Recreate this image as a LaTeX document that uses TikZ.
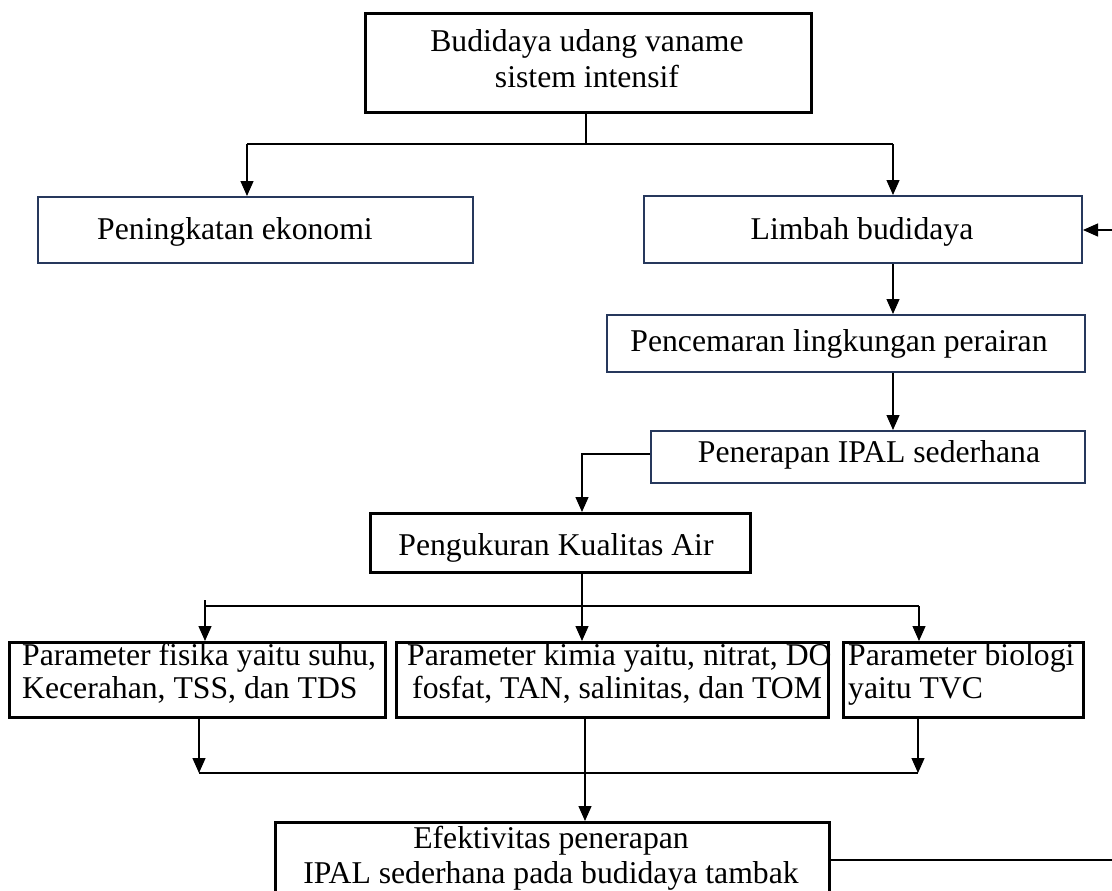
\documentclass[tikz,border=0pt]{standalone}
\usepackage{fontspec}
\setmainfont{Liberation Serif}
\usetikzlibrary{arrows.meta}
\definecolor{navy}{RGB}{38,56,92}
\begin{document}
\begin{tikzpicture}[x=1pt,y=-1pt,
  bbox/.style={draw=black,line width=2.6pt,inner sep=0pt,anchor=north west},
  nbox/.style={draw=navy,line width=2pt,inner sep=0pt,anchor=north west},
  txt/.style={inner sep=0pt,font=\fontsize{31.7}{36}\selectfont},
  conn/.style={line width=1.3pt,draw=black},
  arr/.style={conn,-{Triangle[length=15pt,width=13pt]}}]
\useasboundingbox (0,0) rectangle (1112,891);
\clip (0,0) rectangle (1112,891);
% boxes
\node[bbox,minimum width=446pt,minimum height=99pt] (top) at (364,12) {};
\node[nbox,minimum width=435pt,minimum height=66pt] (peng) at (37,196) {};
\node[nbox,minimum width=438pt,minimum height=67pt] (limb) at (643,195) {};
\node[nbox,minimum width=478pt,minimum height=57pt] (penc) at (606,314) {};
\node[nbox,minimum width=434pt,minimum height=52pt] (pene) at (650,430) {};
\node[bbox,minimum width=380pt,minimum height=59pt] (ukur) at (369,512) {};
\node[bbox,minimum width=376pt,minimum height=75pt] (fis) at (8,641) {};
\node[bbox,minimum width=432pt,minimum height=75pt] (kim) at (395,641) {};
\node[bbox,minimum width=240pt,minimum height=75pt] (bio) at (842,641) {};
\node[bbox,minimum width=554pt,minimum height=100pt] (efek) at (274,821) {};
% texts
\node[txt,anchor=base] (topa) at (587,52) {Budidaya udang vaname};
\node[txt,anchor=base] (topb) at (587,88) {sistem intensif};
\node[txt,anchor=base west] (pengt) at (97,239) {Peningkatan ekonomi};
\node[txt,anchor=base] (limbt) at (862,239) {Limbah budidaya};
\node[txt,anchor=base] (pənct) at (839,351) {Pencemaran lingkungan perairan};
\node[txt,anchor=base] (penet) at (869,462) {Penerapan IPAL sederhana};
\node[txt,anchor=base] (ukurt) at (556,555) {Pengukuran Kualitas Air};
\node[txt,anchor=base west] (fisa) at (22,665) {Parameter fisika yaitu suhu,};
\node[txt,anchor=base west] (fisb) at (22,698) {Kecerahan, TSS, dan TDS};
\node[txt,anchor=base west] (kima) at (407,665) {Parameter kimia yaitu, nitrat, DO};
\node[txt,anchor=base west] (kimb) at (412,698) {fosfat, TAN, salinitas, dan TOM};
\node[txt,anchor=base west] (bioa) at (848,665) {Parameter biologi};
\node[txt,anchor=base west] (biob) at (848,698) {yaitu TVC};
\node[txt,anchor=base] (efa) at (551,848) {Efektivitas penerapan};
\node[txt,anchor=base] (efb) at (551,883) {IPAL sederhana pada budidaya tambak};
% junctions
\coordinate (j1) at (586,144);
\coordinate (jL) at (247,144);
\coordinate (jR) at (893,144);
\coordinate (j2) at (582,454);
\coordinate (j3) at (582,606);
\coordinate (j3L) at (205,606);
\coordinate (j3R) at (919,606);
\coordinate (j3s) at (205,600);
\coordinate (j4L) at (199,773);
\coordinate (j4R) at (918,773);
\coordinate (j5) at (585,773);
\coordinate (eR) at (1112,860);
\coordinate (lR) at (1112,230);
% connectors
\draw[conn] (top.south -| j1) -- (j1);
\draw[conn] (jL) -- (jR);
\draw[arr] (jL) -- (jL |- peng.north);
\draw[arr] (jR) -- (jR |- limb.north);
\draw[arr] (limb.south -| jR) -- (jR |- penc.north);
\draw[arr] (penc.south -| jR) -- (jR |- pene.north);
\draw[arr] (j2 -| pene.west) -- (j2) -- (j2 |- ukur.north);
\draw[arr] (ukur.south -| j3) -- (j3 |- kim.north);
\draw[conn] (j3s) -- (j3L) -- (j3R);
\draw[arr] (j3L) -- (j3L |- fis.north);
\draw[arr] (j3R) -- (j3R |- bio.north);
\draw[arr] (fis.south -| j4L) -- (j4L);
\draw[arr] (bio.south -| j4R) -- (j4R);
\draw[conn] (j4L) -- (j4R);
\draw[arr] (kim.south -| j5) -- (j5 |- efek.north);
\draw[conn] (eR -| efek.east) -- (eR);
\draw[arr] (lR) -- (lR -| limb.east);
\end{tikzpicture}
\end{document}
